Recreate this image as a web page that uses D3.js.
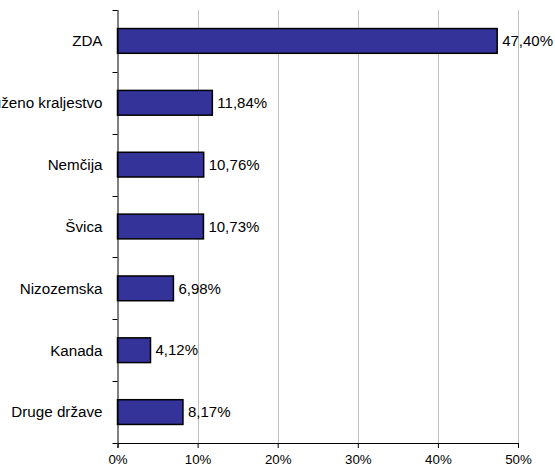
<!DOCTYPE html>
<html>
<head>
<meta charset="utf-8">
<script src="https://cdn.jsdelivr.net/npm/d3@7"></script>
<style>
  body { margin: 0; background: #fff; }
  text { font-family: "Liberation Sans", Arial, sans-serif; fill: #000; }
</style>
</head>
<body>
<div id="vis"></div>
<script>
var countries = ["ZDA", "Združeno kraljestvo", "Nemčija", "Švica", "Nizozemska", "Kanada", "Druge države"];
var shares = [47.40, 11.84, 10.76, 10.73, 6.98, 4.12, 8.17];
var xTicks = [0, 10, 20, 30, 40, 50];

var width = 555, height = 466;
var margin = {top: 10, right: 37, bottom: 23, left: 117.5};

var svg = d3.select("#vis")
    .append("svg")
    .attr("width", width)
    .attr("height", height);

var x = d3.scaleLinear()
    .domain([0, 50])
    .range([margin.left, width - margin.right]);

var y = d3.scaleBand()
    .domain(countries)
    .range([margin.top, height - margin.bottom])
    .paddingInner(0.6)
    .paddingOuter(0.3);

// gridlines
svg.append("g")
  .selectAll("line")
  .data(xTicks.slice(1))
  .enter()
  .append("line")
    .attr("x1", function(d) { return Math.round(x(d)) + 0.5; })
    .attr("x2", function(d) { return Math.round(x(d)) + 0.5; })
    .attr("y1", margin.top)
    .attr("y2", height - margin.bottom)
    .attr("stroke", "#c0c0c0")
    .attr("stroke-width", 1);

// bars
svg.append("g")
  .selectAll("rect")
  .data(shares)
  .enter()
  .append("rect")
    .attr("x", x(0))
    .attr("y", function(d, i) { return y(countries[i]); })
    .attr("width", function(d) { return x(d) - x(0); })
    .attr("height", y.bandwidth())
    .attr("fill", "#333399")
    .attr("stroke", "#000")
    .attr("stroke-width", 1.5);

// value labels
var fmt = d3.format(".2f");
svg.append("g")
  .selectAll("text")
  .data(shares)
  .enter()
  .append("text")
    .attr("x", function(d) { return x(d) + 5; })
    .attr("y", function(d, i) { return y(countries[i]) + y.bandwidth() / 2; })
    .attr("dy", "0.35em")
    .attr("font-size", 15)
    .text(function(d) { return fmt(d).replace(".", ",") + "%"; });

// x axis
var xAxis = d3.axisBottom(x)
    .tickValues(xTicks)
    .tickSize(5)
    .tickFormat(function(d) { return d + "%"; });

var gx = svg.append("g")
    .attr("transform", "translate(0," + (height - margin.bottom) + ")")
    .call(xAxis);
gx.select(".domain").attr("stroke", "#000");
gx.selectAll("text").attr("font-size", 13.3).attr("dy", "0.95em")
    .attr("font-family", "Liberation Sans, Arial, sans-serif");

// y axis: ticks at category boundaries
var step = y.step();
var bounds = d3.range(countries.length + 1).map(function(i) { return margin.top + i * step; });
svg.append("line")
    .attr("x1", x(0) + 0.5).attr("x2", x(0) + 0.5)
    .attr("y1", margin.top).attr("y2", height - margin.bottom)
    .attr("stroke", "#000");
svg.append("g")
  .selectAll("line")
  .data(bounds)
  .enter()
  .append("line")
    .attr("x1", x(0) - 5)
    .attr("x2", x(0))
    .attr("y1", function(d) { return Math.round(d) + 0.5; })
    .attr("y2", function(d) { return Math.round(d) + 0.5; })
    .attr("stroke", "#000");

// category labels (the long one runs off the left edge, as in the original)
svg.append("g")
  .selectAll("text")
  .data(countries)
  .enter()
  .append("text")
    .attr("x", x(0) - 15)
    .attr("y", function(d) { return y(d) + y.bandwidth() / 2; })
    .attr("dy", "0.35em")
    .attr("text-anchor", "end")
    .attr("font-size", 15.2)
    .text(function(d) { return d; });
</script>
</body>
</html>
